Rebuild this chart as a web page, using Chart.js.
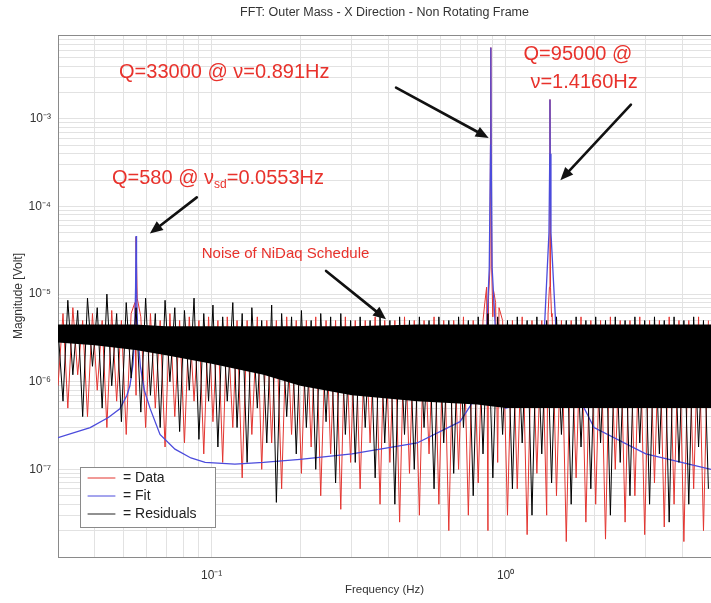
<!DOCTYPE html>
<html><head><meta charset="utf-8">
<script src="https://cdn.jsdelivr.net/npm/chart.js@4/dist/chart.umd.min.js"></script>
<style>html,body{margin:0;padding:0;background:#fff;overflow:hidden}canvas{display:block}</style>
</head><body>
<canvas id="c" width="711" height="603"></canvas>
<script>
// ---------- texts ----------
const chartTitle = 'FFT: Outer Mass - X Direction - Non Rotating Frame';
const xAxisTitle = 'Frequency (Hz)';
const yAxisTitle = 'Magnitude [Volt]';
const legendLabels = ['= Data', '= Fit', '= Residuals'];

// ---------- ticks ----------
const xTickValues = [0.03,0.04,0.05,0.06,0.07,0.08,0.09,0.1,0.2,0.3,0.4,0.5,0.6,0.7,0.8,0.9,1,2,3,4,5];
const xLabelValues = [0.1, 1];
const xLabelTexts = ['10⁻¹', '10⁰'];
const yTickValues = [1e-8,2e-8,3e-8,4e-8,5e-8,6e-8,7e-8,8e-8,9e-8,
  1e-7,2e-7,3e-7,4e-7,5e-7,6e-7,7e-7,8e-7,9e-7,
  1e-6,2e-6,3e-6,4e-6,5e-6,6e-6,7e-6,8e-6,9e-6,
  1e-5,2e-5,3e-5,4e-5,5e-5,6e-5,7e-5,8e-5,9e-5,
  1e-4,2e-4,3e-4,4e-4,5e-4,6e-4,7e-4,8e-4,9e-4,
  1e-3,2e-3,3e-3,4e-3,5e-3,6e-3,7e-3,8e-3,9e-3];
const yLabelValues = [1e-7, 1e-6, 1e-5, 1e-4, 1e-3];
const yLabelTexts = ['10⁻⁷', '10⁻⁶', '10⁻⁵', '10⁻⁴', '10⁻³'];

// ---------- noise frequencies (Hz) ----------
const freqs = [0.030,0.0312,0.0324,0.0337,0.035,0.0364,0.0378,0.0393,0.0408,0.0424,0.044,0.0457,0.0475,0.0493,0.0512,0.0532,0.0553,0.0574,0.0596,0.0619,0.0643,0.0668,0.0694,0.0721,0.0749,0.0778,0.0808,0.0839,0.0871,0.0905,0.094,0.0976,
  0.101,0.105,0.109,0.113,0.118,0.122,0.127,0.132,0.137,0.143,0.148,0.154,0.16,0.166,0.173,0.18,0.187,0.194,0.202,0.21,0.218,0.226,0.235,0.245,0.254,0.264,0.275,0.285,0.297,0.308,0.32,0.333,0.346,0.36,0.374,0.388,0.404,0.42,0.436,0.453,0.471,0.489,0.509,0.528,0.549,0.571,0.593,0.616,0.641,0.666,0.692,0.719,0.747,0.776,0.807,0.838,0.871,0.905,0.94,0.977,
  1.015,1.055,1.096,1.139,1.184,1.23,1.278,1.328,1.38,1.434,1.49,1.549,1.609,1.672,1.738,1.806,1.876,1.95,2.026,2.105,2.188,2.273,2.362,2.455,2.551,2.65,2.754,2.862,2.974,3.09,3.211,3.337,3.467,3.603,3.744,3.89,4.043,4.201,4.365,4.536,4.714,4.9];

// Residuals (black), Volt
const residuals = [4.0e-6,6e-7,8.5e-6,1.2e-6,6.5e-6,4e-7,9e-6,1.5e-6,7e-6,5e-7,1.0e-5,9e-7,6e-6,3.5e-7,8e-6,1.1e-6,7e-6,4.5e-7,9e-6,7e-7,6e-6,3e-7,8.5e-6,1e-6,7e-6,2.7e-7,6.5e-6,8e-7,9e-6,2.2e-7,6e-6,6e-7,
  7.5e-6,1.8e-7,5.5e-6,6e-7,8e-6,3e-7,6e-6,1.2e-7,7e-6,5e-7,5e-6,2e-7,7.5e-6,4.2e-8,6e-6,4e-7,5.5e-6,1.5e-7,6.5e-6,3e-7,5e-6,1e-7,6e-6,3.5e-7,5.5e-6,7e-8,6e-6,2.5e-7,5e-6,1.2e-7,5.5e-6,3e-7,5e-6,8e-8,5.5e-6,2e-7,5e-6,4e-8,5.5e-6,2.5e-7,5e-6,1e-7,5.5e-6,3e-7,5e-6,6e-8,5.5e-6,2e-7,5e-6,9e-8,5.5e-6,3e-7,5e-6,5e-8,5.5e-6,1.5e-7,6e-6,8e-8,5.5e-6,2.5e-7,
  5e-6,6e-8,5.5e-6,2e-7,5e-6,3e-8,5.5e-6,1.5e-7,5e-6,7e-8,5.5e-6,2.5e-7,5e-6,4e-8,5.5e-6,1.8e-7,5e-6,6e-8,5.5e-6,2e-7,5e-6,3e-8,5.5e-6,1.2e-7,5e-6,5e-8,5.5e-6,2e-7,5e-6,4e-8,5.5e-6,1.5e-7,5e-6,2.5e-8,5.5e-6,1.2e-7,5e-6,4e-8,5.5e-6,1.8e-7,5e-6,6e-8];

// Data (red), Volt, at the same frequencies
const dataMag = [9e-7,6e-6,5e-7,7e-6,1.2e-6,5e-6,4e-7,6e-6,8e-7,5e-6,3e-7,6.5e-6,6e-7,5e-6,2.5e-7,6e-6,7e-7,5.5e-6,3e-7,6e-6,5e-7,5e-6,1.8e-7,6e-6,4e-7,5e-6,2e-7,5.5e-6,6e-7,5e-6,1.5e-7,5.5e-6,
  3.5e-7,5e-6,1.2e-7,5.5e-6,3e-7,5e-6,8e-8,5e-6,2.5e-7,5.5e-6,1e-7,5e-6,2e-7,5e-6,6e-8,5.5e-6,2.5e-7,5e-6,9e-8,5e-6,1.8e-7,5.5e-6,5e-8,5e-6,1.5e-7,5e-6,3.5e-8,5.5e-6,1.2e-7,5e-6,6e-8,5e-6,2e-7,5.5e-6,4e-8,5e-6,1.2e-7,5e-6,2.5e-8,5.5e-6,9e-8,5e-6,3e-8,5e-6,1.5e-7,5.5e-6,4e-8,5e-6,2e-8,5e-6,1e-7,5.5e-6,3e-8,5e-6,7e-8,5e-6,2e-8,5.5e-6,1.2e-7,5e-6,
  3e-8,5e-6,6e-8,5.5e-6,1.8e-8,5e-6,9e-8,5e-6,3e-8,5.5e-6,5e-8,5e-6,1.5e-8,5e-6,8e-8,5.5e-6,2.5e-8,5e-6,4e-8,5e-6,1.6e-8,5.5e-6,1e-7,5e-6,2.5e-8,5e-6,5e-8,5.5e-6,1.8e-8,5e-6,7e-8,5e-6,2.2e-8,5.5e-6,4e-8,5e-6,1.5e-8,5e-6,6e-8,5.5e-6,2e-8,5e-6];

// Data (red) around the resonances
const dataPeakFreqs = [0.0548,0.0553,0.0558,0.85,0.862,0.875,0.885,0.891,0.897,0.91,0.925,0.95,1.395,1.41,1.416,1.422,1.44];
const dataPeakMag = [8e-6,4.5e-5,9e-6,8e-6,1.2e-5,9e-6,2e-5,6.5e-3,2e-5,1.1e-5,8e-6,7e-6,6e-6,1.2e-5,1.66e-3,1.2e-5,6e-6];

// Dense part of residual band (black)
const bandFreqs = [0.03,0.04,0.055,0.07,0.1,0.15,0.2,0.3,0.5,0.8,1.0,1.5,2,3,5];
const bandUpper = [4.5e-6,4.5e-6,4.5e-6,4.3e-6,4.3e-6,4.3e-6,4.3e-6,4.3e-6,4.5e-6,4.5e-6,4.5e-6,4.5e-6,4.5e-6,4.5e-6,4.5e-6];
const bandLower = [2.8e-6,2.6e-6,2.3e-6,2e-6,1.6e-6,1.2e-6,9e-7,7e-7,6e-7,5.5e-7,5e-7,5e-7,5e-7,5e-7,5e-7];

// Fit (blue)
const fitFreqs = [0.03,0.0386,0.0445,0.0487,0.0515,0.0527,0.054,0.0547,0.0551,0.0553,0.0555,0.056,0.0572,0.059,0.0618,0.0667,0.075,0.085,0.095,0.12,0.15,0.2,0.3,0.5,0.7,0.8,0.86,0.88,0.889,0.891,0.893,0.9,0.93,1.0,1.2,1.35,1.405,1.414,1.416,1.418,1.427,1.5,2,3,5];
const fitMag = [2.3e-7,3.0e-7,3.9e-7,4.9e-7,7e-7,9e-7,1.6e-6,3.5e-6,1.2e-5,4.6e-5,1.2e-5,3.5e-6,1.5e-6,8e-7,4.9e-7,2.5e-7,1.7e-7,1.35e-7,1.2e-7,1.15e-7,1.2e-7,1.3e-7,1.5e-7,2e-7,3.5e-7,7e-7,3e-6,2e-5,5e-4,6.5e-3,5e-4,2e-5,2.5e-6,5e-7,6e-7,3e-6,5e-5,4e-4,1.66e-3,4e-4,5e-5,2e-6,3e-7,1.5e-7,1e-7];

// ---------- annotations (data coordinates) ----------
const noteTexts = [
  [{t:'Q=33000 @ ν=0.891Hz'}],
  [{t:'Q=580 @ ν'},{t:'sd',sub:true},{t:'=0.0553Hz'}],
  [{t:'Q=95000 @'}],
  [{t:'ν=1.4160Hz'}],
  [{t:'Noise of NiDaq Schedule', small:true}]
];
const noteFreq = [0.0484, 0.0458, 1.151, 1.215, 0.0925];
const noteMag = [3.38e-3, 2.1e-4, 5.45e-3, 2.6e-3, 2.88e-5];
const arrowFromF = [0.424, 2.67, 0.089, 0.245];
const arrowFromM = [2.27e-3, 1.45e-3, 1.27e-4, 1.84e-5];
const arrowToF = [0.876, 1.536, 0.0616, 0.392];
const arrowToM = [6.05e-4, 1.99e-4, 4.9e-5, 5.16e-6];

// ---------- build ----------
const pts = (xs, ys) => xs.map((x, i) => ({x, y: ys[i]}));
const dataPts = pts(freqs, dataMag).concat(pts(dataPeakFreqs, dataPeakMag)).sort((a, b) => a.x - b.x);
const FONT = '"Liberation Sans", Arial, Helvetica, sans-serif';
const RED = '#e3342f', BLUE = '#4b4bdc', TXTRED = '#e8322c';

const overlay = {
  id: 'overlay',
  afterDraw(chart) {
    const {ctx, chartArea: a, scales: {x, y}} = chart;
    ctx.save();
    // top frame
    ctx.strokeStyle = '#8a8a8a'; ctx.lineWidth = 1;
    ctx.beginPath(); ctx.moveTo(a.left, a.top + 0.5); ctx.lineTo(a.right, a.top + 0.5); ctx.stroke();
    // arrows
    ctx.strokeStyle = '#111'; ctx.fillStyle = '#111'; ctx.lineWidth = 2.6; ctx.lineCap = 'round';
    for (let i = 0; i < arrowFromF.length; i++) {
      const x1 = x.getPixelForValue(arrowFromF[i]), y1 = y.getPixelForValue(arrowFromM[i]);
      const x2 = x.getPixelForValue(arrowToF[i]), y2 = y.getPixelForValue(arrowToM[i]);
      const ang = Math.atan2(y2 - y1, x2 - x1), L = 13, W = 5.5;
      const bx = x2 - L * Math.cos(ang), by = y2 - L * Math.sin(ang);
      ctx.beginPath(); ctx.moveTo(x1, y1); ctx.lineTo(bx, by); ctx.stroke();
      ctx.beginPath(); ctx.moveTo(x2, y2);
      ctx.lineTo(bx + W * Math.sin(ang), by - W * Math.cos(ang));
      ctx.lineTo(bx - W * Math.sin(ang), by + W * Math.cos(ang));
      ctx.closePath(); ctx.fill();
    }
    // texts
    ctx.fillStyle = TXTRED; ctx.textBaseline = 'middle'; ctx.textAlign = 'left';
    noteTexts.forEach((parts, i) => {
      let px = x.getPixelForValue(noteFreq[i]);
      const py = y.getPixelForValue(noteMag[i]);
      parts.forEach(p => {
        const size = p.small ? 15 : (p.sub ? 12 : 20);
        ctx.font = size + 'px ' + FONT;
        ctx.fillText(p.t, px, p.sub ? py + 6 : py);
        px += ctx.measureText(p.t).width;
      });
    });
    // legend
    const lx = a.left + 22, ly = a.bottom - 90, lw = 135, lh = 60;
    ctx.fillStyle = '#fff'; ctx.fillRect(lx, ly, lw, lh);
    ctx.strokeStyle = '#8a8a8a'; ctx.lineWidth = 1; ctx.strokeRect(lx + 0.5, ly + 0.5, lw, lh);
    const cols = [RED, BLUE, '#222'];
    ctx.font = '14px ' + FONT; ctx.textBaseline = 'middle';
    legendLabels.forEach((t, i) => {
      const yy = ly + 11 + i * 18;
      ctx.strokeStyle = cols[i]; ctx.lineWidth = 1;
      ctx.beginPath(); ctx.moveTo(lx + 8, yy); ctx.lineTo(lx + 35, yy); ctx.stroke();
      ctx.fillStyle = '#222'; ctx.fillText(t, lx + 43, yy);
    });
    ctx.restore();
  }
};

const lineDs = (label, data, color, extra) => Object.assign({
  label, data, borderColor: color, backgroundColor: color, borderWidth: 1,
  pointRadius: 0, tension: 0, fill: false
}, extra || {});

new Chart(document.getElementById('c'), {
  type: 'line',
  data: {
    datasets: [
      lineDs('Residuals', pts(freqs, residuals), '#000'),
      lineDs('Residuals band upper', pts(bandFreqs, bandUpper), '#000', {borderWidth: 0, fill: '+1', backgroundColor: '#000'}),
      lineDs('Residuals band lower', pts(bandFreqs, bandLower), '#000', {borderWidth: 0}),
      lineDs('Fit', pts(fitFreqs, fitMag), BLUE, {borderWidth: 1.3}),
      lineDs('Data', dataPts, RED)
    ]
  },
  options: {
    responsive: false, animation: false, devicePixelRatio: 1, events: [],
    layout: {padding: 0},
    plugins: {
      legend: {display: false}, tooltip: {enabled: false},
      title: {display: true, text: chartTitle, fullSize: false, color: '#333',
        font: {family: FONT, size: 12.5, weight: 'normal'}, padding: {top: 5.5, bottom: 14.5}}
    },
    scales: {
      x: {
        type: 'logarithmic', min: 0.03, max: 5,
        afterBuildTicks(s) { s.ticks = xTickValues.map(v => ({value: v})); },
        afterFit(s) { s.height = 46; s.paddingLeft = 0; s.paddingRight = 0; },
        grid: {color: '#e2e2e2', drawTicks: false},
        border: {display: true, color: '#8a8a8a'},
        ticks: {autoSkip: false, maxRotation: 0, padding: 11, color: '#333', font: {family: FONT, size: 12},
          callback(v) { const k = xLabelValues.findIndex(u => Math.abs(u - v) / u < 1e-6); return k >= 0 ? xLabelTexts[k] : ''; }},
        title: {display: true, text: xAxisTitle, color: '#333', font: {family: FONT, size: 11.5}, padding: {top: 6, bottom: 6}}
      },
      y: {
        type: 'logarithmic', min: 1e-8, max: 9.05e-3,
        afterBuildTicks(s) { s.ticks = yTickValues.map(v => ({value: v})); },
        afterFit(s) { s.width = 58; s.paddingTop = 0; s.paddingBottom = 0; },
        grid: {color: '#e2e2e2', drawTicks: false},
        border: {display: true, color: '#8a8a8a'},
        ticks: {autoSkip: false, padding: 7, color: '#333', font: {family: FONT, size: 12},
          callback(v) { const k = yLabelValues.findIndex(u => Math.abs(u - v) / u < 1e-6); return k >= 0 ? yLabelTexts[k] : ''; }},
        title: {display: true, text: yAxisTitle, color: '#333', font: {family: FONT, size: 12}, padding: {top: 11, bottom: 11}}
      }
    }
  },
  plugins: [overlay]
});
</script>
</body></html>
